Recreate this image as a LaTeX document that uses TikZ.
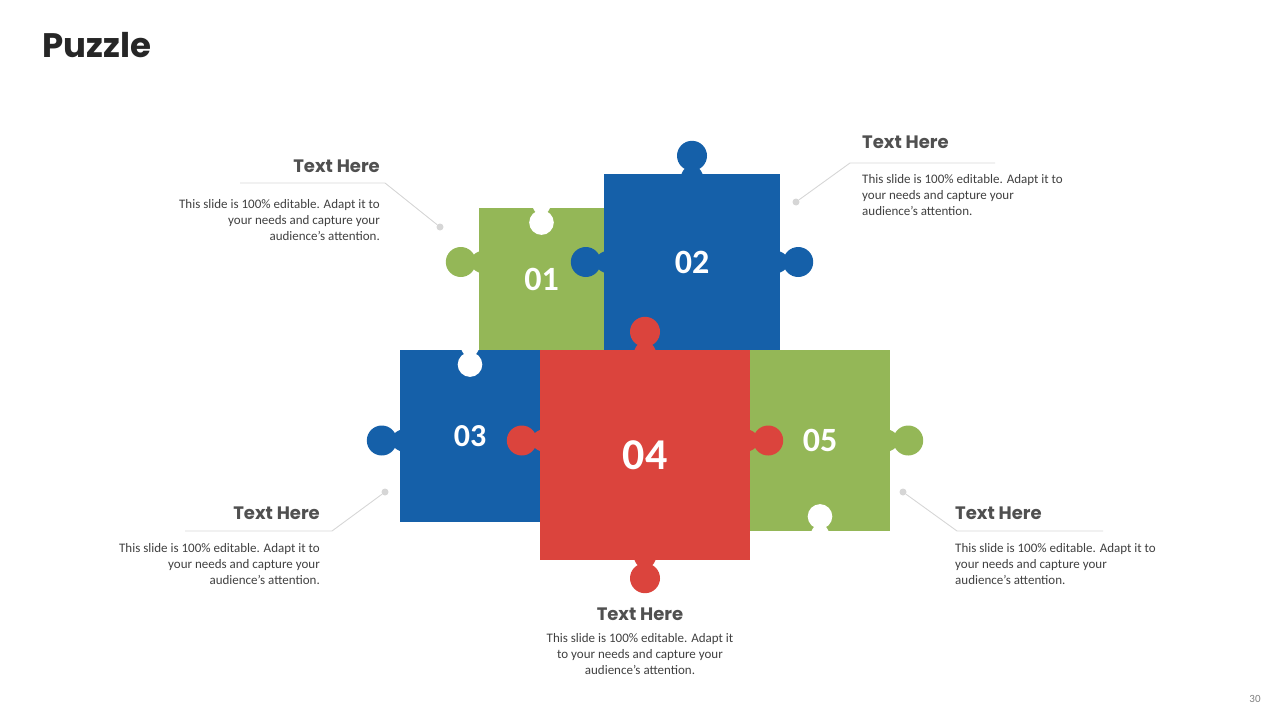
\documentclass[tikz,border=0pt]{standalone}
\usepackage{fontspec}
\setmainfont{Carlito}
\newfontfamily\headfont{Poppins}
\usetikzlibrary{positioning,calc}

\definecolor{pgreen}{HTML}{94B757}
\definecolor{pblue}{HTML}{1560A9}
\definecolor{pred}{HTML}{DB443D}
\definecolor{leadgray}{HTML}{D6D6D6}
\definecolor{headgray}{HTML}{505050}
\definecolor{bodygray}{HTML}{404040}
\definecolor{titlegray}{HTML}{262626}

% knob (or hole) of a piece: [scale]{edge point}{outward angle}{colour}
\newcommand\knob[4][1]{%
  \begin{scope}[shift={#2}, rotate=#3, scale=#1]
    \fill[#4] (18,0) circle[radius=15];
    \fill[#4] (-0.4,-10.5) -- (0,-10.5) .. controls (3,-10.5) and (4,-7) .. (6,-6.5)
      -- (6,6.5) .. controls (4,7) and (3,10.5) .. (0,10.5) -- (-0.4,10.5) -- cycle;
  \end{scope}}

\begin{document}
\begin{tikzpicture}[
  x=1pt, y=-1pt,
  piece/.style={inner sep=0pt, text=white, font=\bfseries\fontsize{34}{34}\selectfont},
  head/.style={inner sep=0pt, text=headgray, font=\headfont\bfseries\fontsize{18}{20}\selectfont},
  body/.style={inner sep=0pt, text=bodygray, font=\fontsize{13}{16}\selectfont},
  dot/.style={circle, fill=leadgray, inner sep=0pt, minimum size=7pt},
  lead/.style={draw=leadgray, line width=0.9pt}
]
\useasboundingbox (0,0) rectangle (1280,720);

% Title
\node[anchor=base west, inner sep=0pt, text=titlegray,
  font=\headfont\bfseries\fontsize{34}{40}\selectfont] (title) at (42,57) {Puzzle};

% Upper pieces
\node[piece, fill=pgreen, minimum width=125pt, minimum height=142pt] (p1) at (541.5,279) {01};
\knob[0.82]{(p1.north)}{270}{white}
\node[piece, fill=pblue, minimum width=176pt, minimum height=176pt] (p2) at (692,262) {02};
\knob{(p1.west |- p2.west)}{180}{pgreen}
\knob{(p2.north)}{90}{pblue}
\knob{(p2.west)}{180}{pblue}
\knob{(p2.east)}{0}{pblue}

% Lower pieces
\node[piece, fill=pblue, minimum width=140pt, minimum height=172pt,
  font=\bfseries\fontsize{32}{32}\selectfont] (p3) at (470,436) {03};
\knob[0.82]{(p3.north)}{270}{white}
\node[piece, fill=pgreen, minimum width=140pt, minimum height=181pt] (p5) at (820,440.5) {05};
\knob{(p3.west |- p5.west)}{180}{pblue}
\knob{(p5.east)}{0}{pgreen}
\knob[0.82]{(p5.south)}{90}{white}
\node[piece, fill=pred, minimum width=210pt, minimum height=210pt,
  font=\bfseries\fontsize{44}{44}\selectfont] (p4) at (645,455) {04};
\knob{(p4.north)}{90}{pred}
\knob{(p4.south)}{270}{pred}
\knob{(p4.west |- p5.west)}{180}{pred}
\knob{(p4.east |- p5.east)}{0}{pred}

% Callouts
\node[body, align=right, anchor=north east] (b1) at (380,199)
  {This slide is 100\% editable. Adapt it to\\your needs and capture your\\audience's attention.};
\node[head, above left=26pt and 0pt of b1.north east] (h1) {Text Here};
\node[dot] (d1) at (440,227) {};
\coordinate (k1) at (385,183);
\coordinate (e1) at (240,183);
\draw[lead] (d1) -- (k1) -- (e1);

\node[body, align=left, anchor=north west] (b2) at (862,174)
  {This slide is 100\% editable. Adapt it to\\your needs and capture your\\audience's attention.};
\node[head, above right=25pt and 0pt of b2.north west] (h2) {Text Here};
\node[dot] (d2) at (796,202) {};
\coordinate (k2) at (850,163);
\coordinate (e2) at (995,163);
\draw[lead] (d2) -- (k2) -- (e2);

\node[body, align=right, anchor=north east] (b3) at (320,543)
  {This slide is 100\% editable. Adapt it to\\your needs and capture your\\audience's attention.};
\node[head, above left=23pt and 0pt of b3.north east] (h3) {Text Here};
\node[dot] (d3) at (385,492) {};
\coordinate (k3) at (332,531);
\coordinate (e3) at (185,531);
\draw[lead] (d3) -- (k3) -- (e3);

\node[body, align=left, anchor=north west] (b4) at (955,543)
  {This slide is 100\% editable. Adapt it to\\your needs and capture your\\audience's attention.};
\node[head, above right=23pt and 0pt of b4.north west] (h4) {Text Here};
\node[dot] (d4) at (903,492) {};
\coordinate (k4) at (957,531);
\coordinate (e4) at (1103,531);
\draw[lead] (d4) -- (k4) -- (e4);

\node[body, align=center, anchor=north] (b5) at (640,633)
  {This slide is 100\% editable. Adapt it\\to your needs and capture your\\audience's attention.};
\node[head, above=12pt of b5.north] (h5) {Text Here};

% Page number
\node[inner sep=0pt, text=gray, font=\fontsize{11}{12}\selectfont] (page) at (1255,699) {30};
\end{tikzpicture}
\end{document}
